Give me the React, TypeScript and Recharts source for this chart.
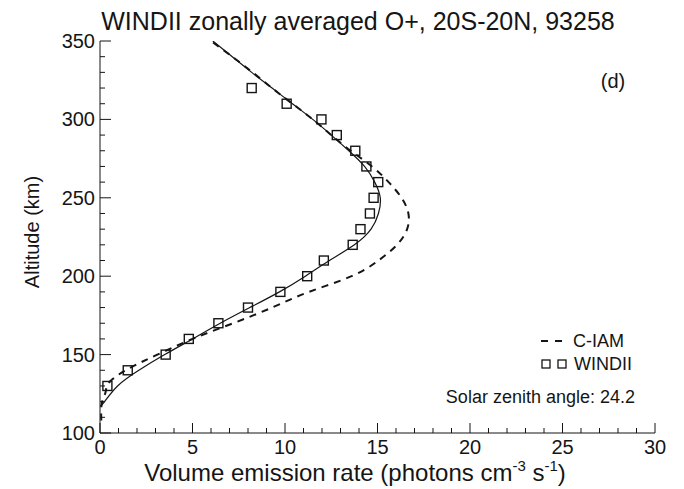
import React from "react";
import { ComposedChart, XAxis, YAxis, Line, Scatter } from "recharts";

// WINDII measured O+ volume emission rate, one point per 10 km
const windiiAlt = [130, 140, 150, 160, 170, 180, 190, 200, 210, 220, 230, 240, 250, 260, 270, 280, 290, 300, 310, 320];
const windiiRate = [0.4, 1.5, 3.55, 4.8, 6.4, 8.0, 9.75, 11.2, 12.1, 13.66, 14.08, 14.59, 14.79, 15.04, 14.4, 13.8, 12.8, 11.97, 10.09, 8.2];

// smooth fit through the WINDII profile (solid)
const fitAlt = [117, 120, 130, 140, 150, 160, 170, 180, 190, 200, 210, 220, 230, 240, 250, 260, 270, 280, 290, 300, 310, 320, 330, 340, 350];
const fitRate = [0, 0.25, 0.95, 2.1, 3.5, 5.0, 6.5, 8.1, 9.7, 11.1, 12.4, 13.75, 14.65, 15.05, 15.15, 14.85, 14.3, 13.45, 12.5, 11.5, 10.4, 9.3, 8.2, 7.15, 6.1];

// C-IAM model profile (dashed)
const ciamAlt = [108, 119, 126, 133, 142, 150, 160, 170, 180, 190, 200, 210, 220, 230, 240, 250, 260, 270, 280, 290, 300, 310, 320, 330, 340, 350];
const ciamRate = [0.07, 0.1, 0.3, 0.55, 1.7, 3.1, 5.0, 7.2, 9.3, 11.3, 13.6, 15.05, 16.05, 16.6, 16.67, 16.3, 15.6, 14.7, 13.55, 12.5, 11.5, 10.4, 9.3, 8.25, 7.15, 6.0];

const xTicks = Array.from({ length: 31 }, (_, i) => i);
const yTicks = Array.from({ length: 26 }, (_, i) => 100 + i * 10);

const windii = windiiAlt.map((alt, i) => ({ alt, v: windiiRate[i] }));
const fit = fitAlt.map((alt, i) => ({ alt, v: fitRate[i] }));
const ciam = ciamAlt.map((alt, i) => ({ alt, v: ciamRate[i] }));

const W = 684;
const H = 489;
const FONT = '"Liberation Sans", Arial, Helvetica, sans-serif';
const INK = "#151515";

// ticks all point into the plot box, labels only on the majors
function BottomTick(props: any) {
  const { x, y, payload } = props;
  const major = payload.value % 5 === 0;
  return (
    <g>
      <line x1={x} y1={y} x2={x} y2={y - (major ? 10 : 5)} stroke={INK} strokeWidth={1} />
      {major && (
        <text x={x} y={y + 21} textAnchor="middle" fontSize={20} fontFamily={FONT} fill={INK}>
          {payload.value}
        </text>
      )}
    </g>
  );
}

function TopTick(props: any) {
  const { x, y, payload } = props;
  const major = payload.value % 5 === 0;
  return <line x1={x} y1={y} x2={x} y2={y + (major ? 10 : 5)} stroke={INK} strokeWidth={1} />;
}

function LeftTick(props: any) {
  const { x, y, payload } = props;
  const major = payload.value % 50 === 0;
  return (
    <g>
      <line x1={x} y1={y} x2={x + (major ? 11 : 5)} y2={y} stroke={INK} strokeWidth={1} />
      {major && (
        <text x={x - 5} y={y + 7} textAnchor="end" fontSize={20} fontFamily={FONT} fill={INK}>
          {payload.value}
        </text>
      )}
    </g>
  );
}

function RightTick(props: any) {
  const { x, y, payload } = props;
  const major = payload.value % 50 === 0;
  return <line x1={x} y1={y} x2={x - (major ? 11 : 5)} y2={y} stroke={INK} strokeWidth={1} />;
}

function OpenSquare(props: any) {
  const { cx, cy } = props;
  return <rect x={cx - 4.5} y={cy - 4.5} width={9} height={9} fill="none" stroke={INK} strokeWidth={1.4} />;
}

export default function App() {
  return (
    <div style={{ position: "fixed", left: 0, top: 0, width: W, height: H, background: "#fff" }}>
      <ComposedChart width={W} height={H} margin={{ top: 41, right: 29, bottom: 0, left: 0 }}>
        <XAxis
          type="number"
          dataKey="v"
          domain={[0, 30]}
          ticks={xTicks}
          interval={0}
          tickSize={0}
          tickMargin={0}
          tick={BottomTick}
          height={56}
          axisLine={{ stroke: INK }}
          allowDataOverflow
        />
        <XAxis
          xAxisId="top"
          orientation="top"
          type="number"
          dataKey="v"
          domain={[0, 30]}
          ticks={xTicks}
          interval={0}
          tickSize={0}
          tickMargin={0}
          tick={TopTick}
          height={0}
          axisLine={{ stroke: INK }}
          allowDataOverflow
        />
        <YAxis
          type="number"
          dataKey="alt"
          domain={[100, 350]}
          ticks={yTicks}
          interval={0}
          tickSize={0}
          tickMargin={0}
          tick={LeftTick}
          width={100}
          axisLine={{ stroke: INK }}
          allowDataOverflow
        />
        <YAxis
          yAxisId="right"
          orientation="right"
          type="number"
          dataKey="alt"
          domain={[100, 350]}
          ticks={yTicks}
          interval={0}
          tickSize={0}
          tickMargin={0}
          tick={RightTick}
          width={0}
          axisLine={{ stroke: INK }}
          allowDataOverflow
        />
        <Line
          data={ciam}
          dataKey="alt"
          type="natural"
          stroke={INK}
          strokeWidth={2}
          strokeDasharray="7 6"
          dot={false}
          isAnimationActive={false}
        />
        <Line
          data={fit}
          dataKey="alt"
          type="natural"
          stroke={INK}
          strokeWidth={1.2}
          dot={false}
          isAnimationActive={false}
        />
        <Scatter data={windii} dataKey="alt" shape={OpenSquare} isAnimationActive={false} />
      </ComposedChart>

      <svg
        width={W}
        height={H}
        style={{ position: "absolute", left: 0, top: 0, pointerEvents: "none" }}
        fontFamily={FONT}
        fill={INK}
      >
        <text x={358} y={30} textAnchor="middle" fontSize={25}>
          WINDII zonally averaged O+, 20S-20N, 93258
        </text>
        <text x={613} y={88} textAnchor="middle" fontSize={20}>
          (d)
        </text>
        <text x={39} y={232} textAnchor="middle" fontSize={20} transform="rotate(-90 39 232)">
          Altitude (km)
        </text>
        <text x={355} y={481} textAnchor="middle" fontSize={24}>
          Volume emission rate (photons cm
          <tspan fontSize={15} dy={-10}>-3</tspan>
          <tspan dy={10}> s</tspan>
          <tspan fontSize={15} dy={-10}>-1</tspan>
          <tspan dy={10}>)</tspan>
        </text>

        {/* legend */}
        <line x1={541} y1={341} x2={564} y2={341} stroke={INK} strokeWidth={2} strokeDasharray="7 7" />
        <text x={573} y={347} fontSize={18}>C-IAM</text>
        <rect x={542} y={360} width={8} height={8} fill="none" stroke={INK} strokeWidth={1.3} />
        <rect x={558} y={360} width={8} height={8} fill="none" stroke={INK} strokeWidth={1.3} />
        <text x={574} y={370} fontSize={18}>WINDII</text>
        <text x={635} y={403} textAnchor="end" fontSize={18}>
          Solar zenith angle: 24.2
        </text>
      </svg>
    </div>
  );
}
